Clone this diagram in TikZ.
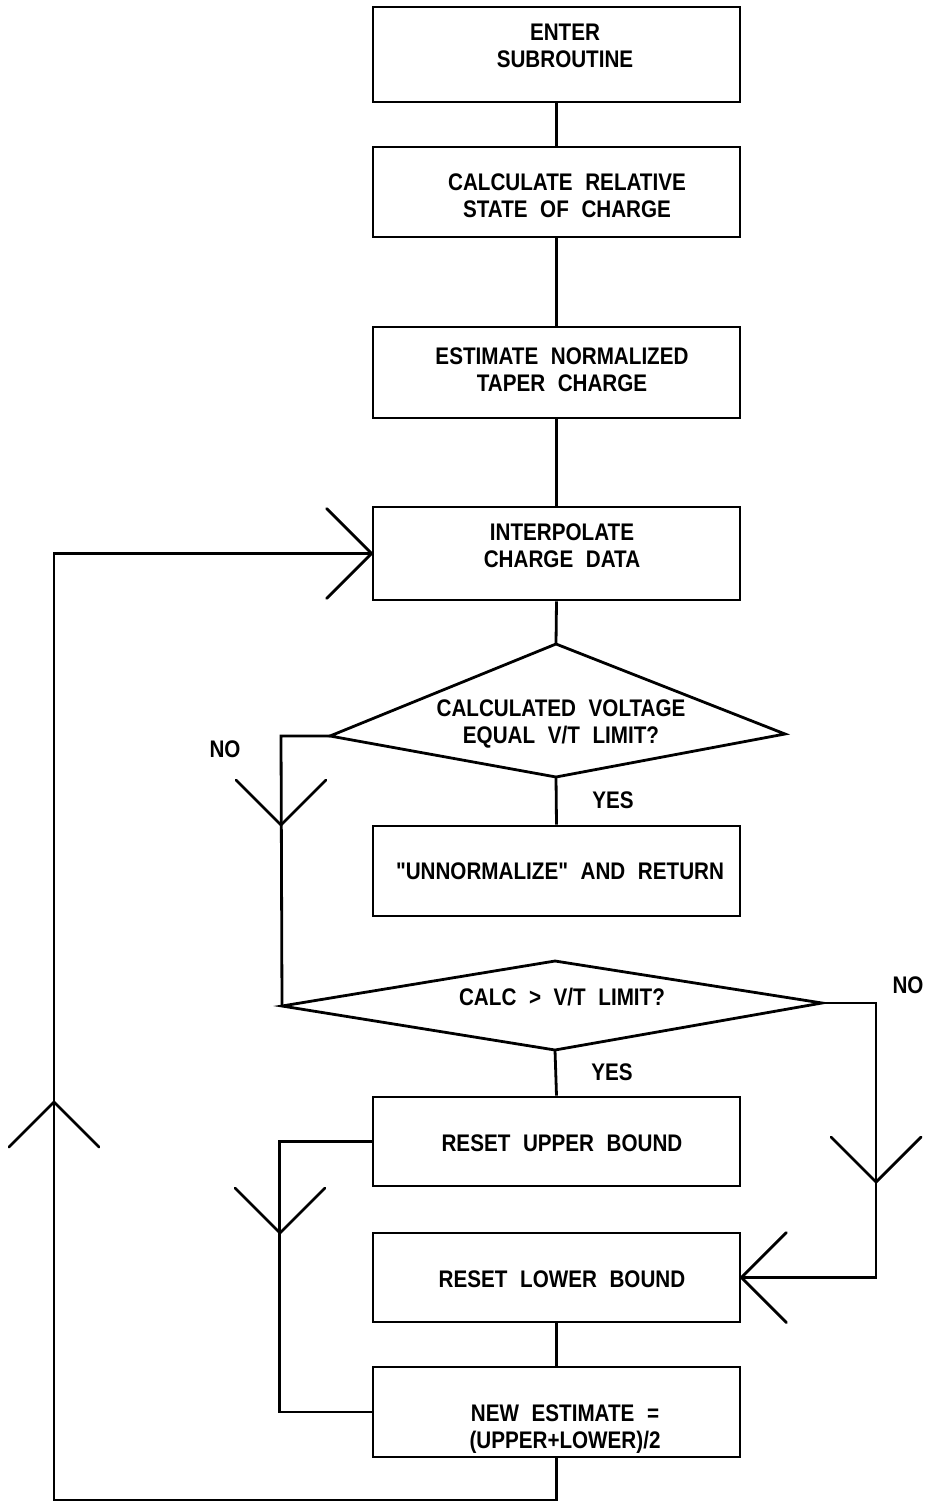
\documentclass[tikz,border=0pt]{standalone}
\usepackage{fontspec}
\newfontfamily\dfont{Liberation Sans}[FakeStretch=0.86,WordSpace=2.2]
\begin{document}
\begin{tikzpicture}[x=0.75pt,y=-0.75pt,line width=2.1pt,
  box/.style={draw,rectangle,inner sep=0pt,minimum width=275.25pt,minimum height=67.5pt},
  txt/.style={align=center,inner sep=0pt,font=\dfont\fontsize{18pt}{20.5pt}\selectfont\bfseries},
  lbl/.style={inner sep=0pt,font=\dfont\fontsize{18pt}{20.5pt}\selectfont\bfseries},
  chev/.pic={\draw[line cap=round] (-45,-45) -- (0,0) -- (45,-45);}]
\useasboundingbox (0,0) rectangle (925,1505);
% boxes
\node[box,minimum height=71.25pt] (b1) at (556.5,54.5) {};
\node[box] (b2) at (556.5,192) {};
\node[box,minimum height=68.25pt] (b3) at (556.5,372.5) {};
\node[box,minimum height=69.75pt] (b4) at (556.5,553.5) {};
\node[box] (b5) at (556.5,871) {};
\node[box,minimum height=66.75pt] (b6) at (556.5,1141.5) {};
\node[box,minimum height=66.75pt] (b7) at (556.5,1277.5) {};
\node[box] (b8) at (556.5,1412) {};
% texts
\node[txt] (t1) at (565,46) {ENTER\\SUBROUTINE};
\node[txt] (t2) at (567,196) {CALCULATE RELATIVE\\STATE OF CHARGE};
\node[txt] (t3) at (562,370) {ESTIMATE NORMALIZED\\TAPER CHARGE};
\node[txt] (t4) at (562,546) {INTERPOLATE\\CHARGE DATA};
\node[txt] (t5) at (560,871) {"UNNORMALIZE" AND RETURN};
\node[txt] (t6) at (562,1143) {RESET UPPER BOUND};
\node[txt] (t7) at (562,1279) {RESET LOWER BOUND};
\node[txt] (t8) at (565,1429) {NEW ESTIMATE =\\(UPPER+LOWER)/2};
% diamonds
\coordinate (d1t) at (556,644);
\coordinate (d1l) at (330,736);
\coordinate (d1r) at (785,734);
\coordinate (d1b) at (556,777);
\draw (d1t) -- (d1r) -- (d1b) -- (d1l) -- cycle;
\node[txt] (t9) at (561,724) {CALCULATED VOLTAGE\\EQUAL V/T LIMIT?};
\coordinate (d2t) at (555,961);
\coordinate (d2l) at (282,1006);
\coordinate (d2r) at (822,1003);
\coordinate (d2b) at (555,1050);
\draw (d2t) -- (d2r) -- (d2b) -- (d2l) -- cycle;
\node[txt] (t10) at (562,997) {CALC > V/T LIMIT?};
% labels
\node[lbl] (no1) at (225,749) {NO};
\node[lbl] (yes1) at (613,800) {YES};
\node[lbl] (no2) at (908,985) {NO};
\node[lbl] (yes2) at (612,1072) {YES};
% connectors
\draw (b1.south) -- (b2.north);
\draw (b2.south) -- (b3.north);
\draw (b3.south) -- (b4.north);
\draw (b4.south) -- (d1t);
\draw (d1b) -- (b5.north);
\draw (d2b) -- (b6.north);
\draw (b7.south) -- (b8.north);
\draw (d1l) -- (281,736) -- (d2l);
\draw (d2r) -- (876,1003) |- (b7.east);
\draw (b6.west) -- ++(-92,0) |- (b8.west);
\coordinate (lc) at (54,1500);
\draw (b8.south) |- (lc) |- (b4.west);
% arrowheads
\pic at (281,825) {chev};
\pic at (876,1182) {chev};
\pic at (280,1233) {chev};
\pic[rotate=180] at (54,1102) {chev};
\pic[rotate=90] at (b4.west) {chev};
\pic[rotate=-90] at (b7.east) {chev};
\end{tikzpicture}
\end{document}
